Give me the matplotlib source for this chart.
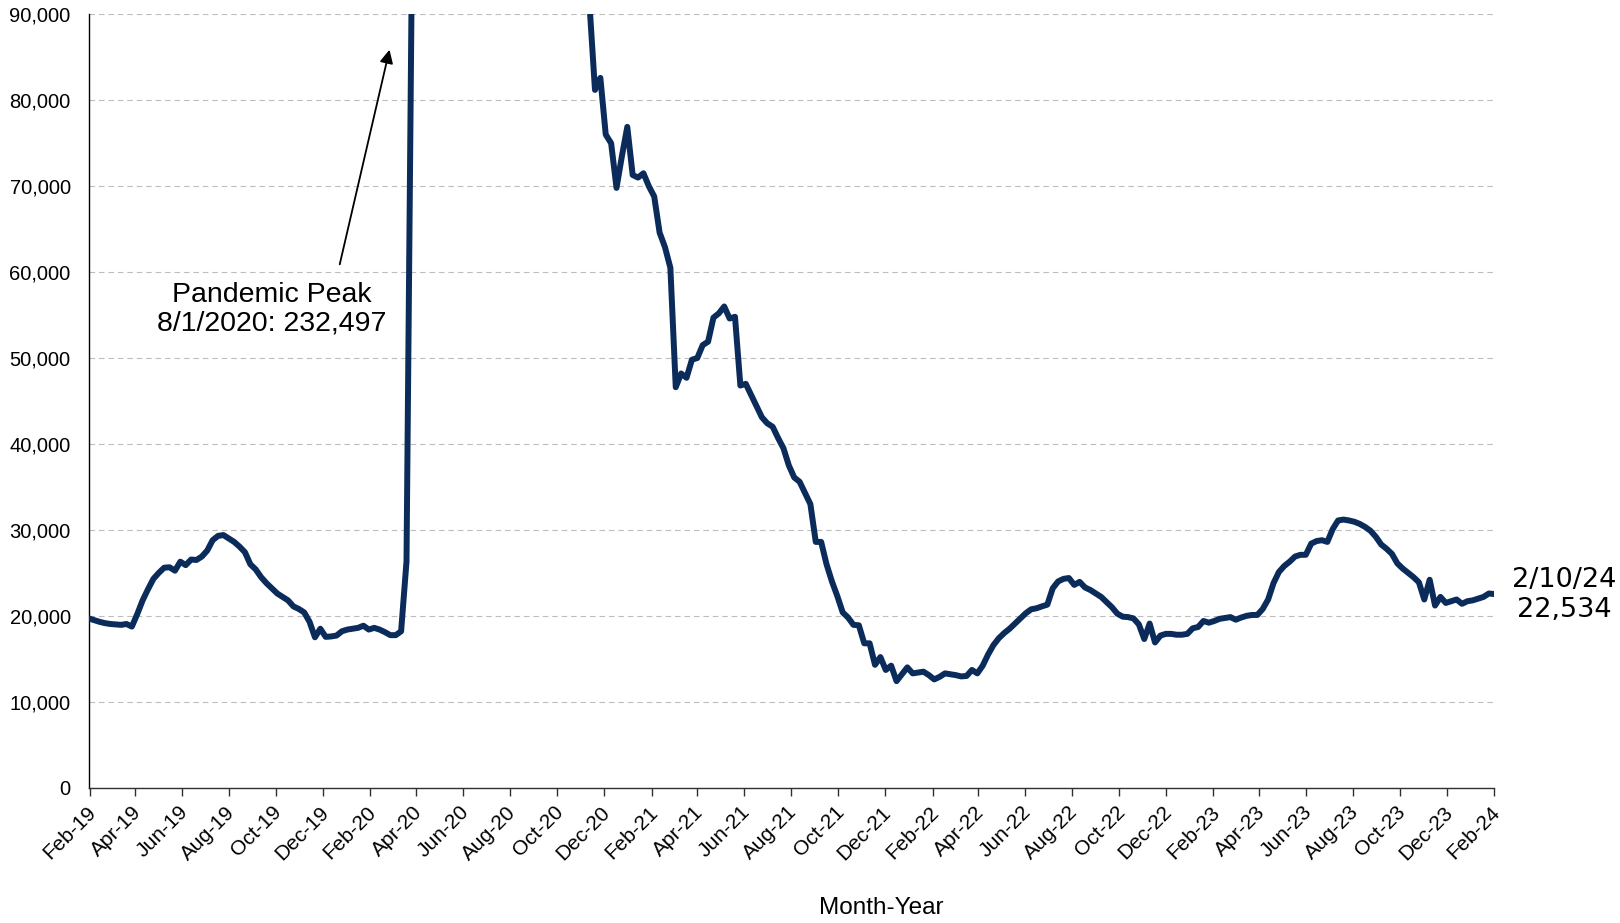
#!/usr/bin/env python3

import numpy as np
import pandas as pd
import matplotlib
matplotlib.use( 'Agg' )
import matplotlib.pyplot as plt
import matplotlib.transforms as mtransforms
from matplotlib.ticker import FuncFormatter

plt.rcParams['font.family'] = [ 'Liberation Sans', 'DejaVu Sans' ]

# Weekly claims, Saturdays starting 2/9/2019
firstWeek = '2019-02-09'

claims = [
    19700, 19500, 19300, 19150, 19050, 19000, 18950, 19050, 18750, 20200,
    21800, 23100, 24300, 25000, 25600, 25650, 25250, 26300, 25900, 26550,
    26500, 26900, 27600, 28800, 29300, 29400, 29000, 28600, 28050, 27400,
    26000, 25400, 24500, 23800, 23200, 22600, 22200, 21800, 21100, 20800,
    20400, 19300, 17500, 18500, 17550, 17600, 17700, 18200, 18400, 18500,
    18600, 18850, 18400, 18600, 18400, 18100, 17750, 17750, 18200, 26300,
    96000, 148000, 176000, 192000, 199000, 204000, 208000, 211000, 214000, 216000,
    218000, 220000, 222000, 224000, 226000, 228000, 230000, 232497, 228000, 221000,
    212000, 203000, 192000, 181000, 170000, 160000, 150000, 140000, 131000, 122000,
    113000, 105000, 97000, 91000, 81200, 82600, 76000, 75000, 69800, 73500,
    76900, 71300, 71000, 71500, 70000, 68800, 64600, 62900, 60500, 46600,
    48200, 47700, 49800, 50000, 51500, 51900, 54700, 55200, 56000, 54600,
    54800, 46800, 47000, 45700, 44400, 43100, 42400, 42000, 40700, 39500,
    37500, 36100, 35600, 34300, 33000, 28600, 28600, 26000, 24000, 22300,
    20400, 19800, 18950, 18900, 16800, 16800, 14300, 15200, 13700, 14200,
    12400, 13200, 14000, 13300, 13400, 13500, 13100, 12600, 12900, 13300,
    13200, 13100, 12950, 13000, 13700, 13300, 14200, 15500, 16600, 17400,
    18000, 18500, 19100, 19700, 20300, 20760, 20880, 21100, 21300, 23200,
    24000, 24300, 24400, 23600, 23950, 23300, 23000, 22600, 22200, 21600,
    21000, 20250, 19900, 19850, 19700, 19000, 17300, 19100, 16900, 17700,
    17900, 17900, 17800, 17800, 17900, 18550, 18700, 19400, 19200, 19400,
    19650, 19750, 19850, 19550, 19800, 20000, 20100, 20100, 20800, 21900,
    23800, 25100, 25800, 26300, 26900, 27100, 27100, 28400, 28700, 28800,
    28600, 30100, 31100, 31200, 31100, 30950, 30700, 30350, 29900, 29200,
    28300, 27800, 27200, 26100, 25500, 25000, 24500, 23900, 21900, 24200,
    21200, 22200, 21500, 21700, 21900, 21400, 21700, 21800, 22000, 22200,
    22600, 22534,
]

peakDate  = '8/1/2020'
peakValue = 232497

tickStart = '2019-02-10'
tickEnd   = '2024-02-10'

yTicks = np.arange( 0, 90001, 10000 )

lineColor = '#0B2C5B'
gridColor = '#BDBDBD'

def plotClaims():

    weeks = pd.date_range( firstWeek, periods = len( claims ), freq = '7D' )
    xTicks = pd.date_range( tickStart, tickEnd, freq = pd.DateOffset( months = 2 ) )

    fig = plt.figure( figsize = ( 16.2, 9.23 ), dpi = 100 )
    ax  = fig.add_axes( [ 0.0548, 0.1466, 0.8676, 0.8379 ] )

    ax.plot( weeks, claims, color = lineColor, lw = 4.3, \
             solid_joinstyle = 'round', zorder = 3 )

    ax.set_xlim( weeks[0], weeks[-1] )
    ax.set_ylim( yTicks[0], yTicks[-1] )

    ax.set_yticks( yTicks )
    ax.yaxis.set_major_formatter( FuncFormatter( lambda v, p: '{:,.0f}'.format( v ) ) )

    ax.set_xticks( xTicks )
    ax.set_xticklabels( [ d.strftime( '%b-%y' ) for d in xTicks ] )

    ax.yaxis.grid( True, color = gridColor, linestyle = ( 0, ( 5, 3.5 ) ), lw = 0.8 )
    ax.set_axisbelow( True )

    for side in [ 'top', 'right' ]:
        ax.spines[side].set_visible( False )
    ax.spines['left'  ].set_linewidth( 1.0 )
    ax.spines['bottom'].set_linewidth( 1.0 )
    ax.spines['bottom'].set_color( '#303030' )

    ax.tick_params( axis = 'y', length = 0, pad = 13, labelsize = 14.5, colors = 'black' )
    ax.tick_params( axis = 'x', length = 6, width = 1, direction = 'out', pad = 3, \
                    labelsize = 15, color = '#303030', labelrotation = 45 )

    # nudge rotated month labels a bit down/right of the tick
    shift = mtransforms.ScaledTranslation( 3 / 100., -9 / 100., fig.dpi_scale_trans )
    for lab in ax.get_xticklabels():
        lab.set_ha( 'right' )
        lab.set_va( 'center' )
        lab.set_rotation_mode( 'anchor' )
        lab.set_transform( lab.get_transform() + shift )

    ax.set_xlabel( 'Month-Year', fontsize = 17.5, va = 'center' )
    ax.xaxis.set_label_coords( 0.5637, -0.1556 )

    # Peak is far off the top of the axis, so point at it
    ax.annotate( '', xy = ( 0.2144, 0.9577 ), xycoords = 'axes fraction', \
                 xytext = ( 0.1781, 0.6732 ), textcoords = 'axes fraction', \
                 arrowprops = dict( arrowstyle = '-|>', color = 'black', \
                                    lw = 1.3, mutation_scale = 20 ) )
    ax.text( 0.1304, 0.6186, 'Pandemic Peak\n{:}: {:,}'.format( peakDate, peakValue ), \
             transform = ax.transAxes, ha = 'center', va = 'center', \
             fontsize = 20.5, linespacing = 1.12 )

    last = weeks[-1]
    lastLabel = '{:}/{:}/{:}\n{:,}'.format( last.month, last.day, last.strftime( '%y' ), claims[-1] )
    ax.annotate( lastLabel, xy = ( last, claims[-1] ), xytext = ( 70, -1 ), \
                 textcoords = 'offset pixels', ha = 'center', va = 'center', \
                 fontsize = 19.5, family = 'DejaVu Sans', linespacing = 1.2, \
                 annotation_clip = False )

    fig.savefig( 'out.png', dpi = 100 )

if __name__ == '__main__':

    plotClaims()
